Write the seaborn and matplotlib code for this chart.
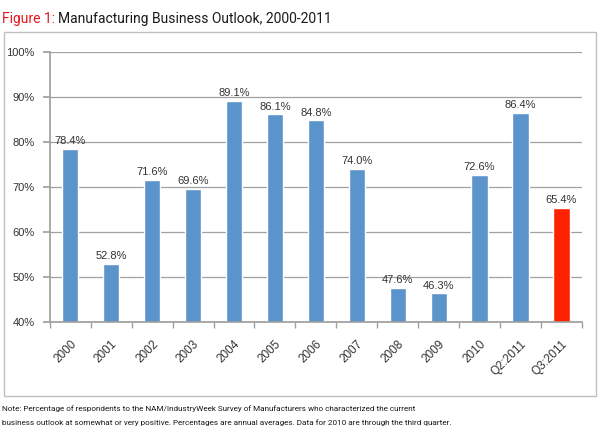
import matplotlib
matplotlib.use('Agg')
import matplotlib.pyplot as plt
from matplotlib.patches import Rectangle
import seaborn as sns
import pandas as pd
import numpy as np

categories = ['2000', '2001', '2002', '2003', '2004', '2005', '2006', '2007',
              '2008', '2009', '2010', 'Q2:2011', 'Q3:2011']
values = [78.4, 52.8, 71.6, 69.6, 89.1, 86.1, 84.8, 74.0, 47.6, 46.3, 72.6, 86.4, 65.4]
y_ticks = [40, 50, 60, 70, 80, 90, 100]

blue = '#5B93CB'
red = '#FF2200'
bar_colors = [blue] * (len(categories) - 1) + [red]

df = pd.DataFrame({'period': categories, 'pct': values})

sns.set_theme(style='white')
plt.rcParams['font.family'] = ['Liberation Sans', 'DejaVu Sans']
head_font = ['Roboto', 'DejaVu Sans']

fig = plt.figure(figsize=(6, 4.33), dpi=100)

# outer frame around the chart
fig.patches.append(Rectangle((0.006, 0.086), 0.988, 0.839, transform=fig.transFigure,
                             fill=False, edgecolor='#bfbfbf', linewidth=1.0))

ax = fig.add_axes([0.083, 0.257, 0.887, 0.623])
sns.barplot(data=df, x='period', y='pct', hue='period', palette=bar_colors,
            legend=False, width=0.4, ax=ax, saturation=1)

ax.set_xlim(-0.5, len(categories) - 0.5)
ax.set_ylim(40, 100)
ax.set_yticks(y_ticks)
ax.set_yticklabels([f'{t}%' for t in y_ticks], fontsize=8, color='#333333')
ax.yaxis.grid(True, color='#a0a0a0', linewidth=0.9)
ax.set_axisbelow(True)
ax.set_xlabel('')
ax.set_ylabel('')

# category ticks sit between the bars, labels stay centred
ax.set_xticks(np.arange(-0.5, len(categories)), minor=True)
ax.tick_params(axis='x', which='minor', length=4, color='#a0a0a0', bottom=True)
ax.tick_params(axis='x', which='major', labelsize=8.5, labelcolor='#333333', rotation=45,
               length=0, pad=12)
ax.tick_params(axis='y', length=5, color='#a0a0a0', left=True, pad=6)
for lbl in ax.get_xticklabels():
    lbl.set_ha('right')
    lbl.set_rotation_mode('anchor')

for side in ['top', 'right']:
    ax.spines[side].set_visible(False)
ax.spines['left'].set_color('#a0a0a0')
ax.spines['bottom'].set_color('#a0a0a0')

for i, v in enumerate(values):
    ax.text(i, v + 0.6, f'{v:.1f}%', ha='center', va='bottom', fontsize=8, color='#333333')

# title in two colours
t1 = fig.text(0.004, 0.955, 'Figure 1:', color='#e8141c', fontsize=10,
              family=head_font, va='center')
fig.canvas.draw()
bb = t1.get_window_extent()
x2 = (bb.x1 + 3) / fig.bbox.width
fig.text(x2, 0.955, 'Manufacturing Business Outlook, 2000-2011', color='#1a1a1a',
         fontsize=10, family=head_font, va='center')

note1 = ('Note: Percentage of respondents to the NAM/IndustryWeek Survey of Manufacturers '
         'who characterized the current')
note2 = ('business outlook at somewhat or very positive. Percentages are annual averages. '
         'Data for 2010 are through the third quarter.')
fig.text(0.004, 0.056, note1, fontsize=5.9, color='#1a1a1a', va='center', family=head_font)
fig.text(0.004, 0.023, note2, fontsize=5.9, color='#1a1a1a', va='center', family=head_font)

fig.savefig('out.png', dpi=100)
